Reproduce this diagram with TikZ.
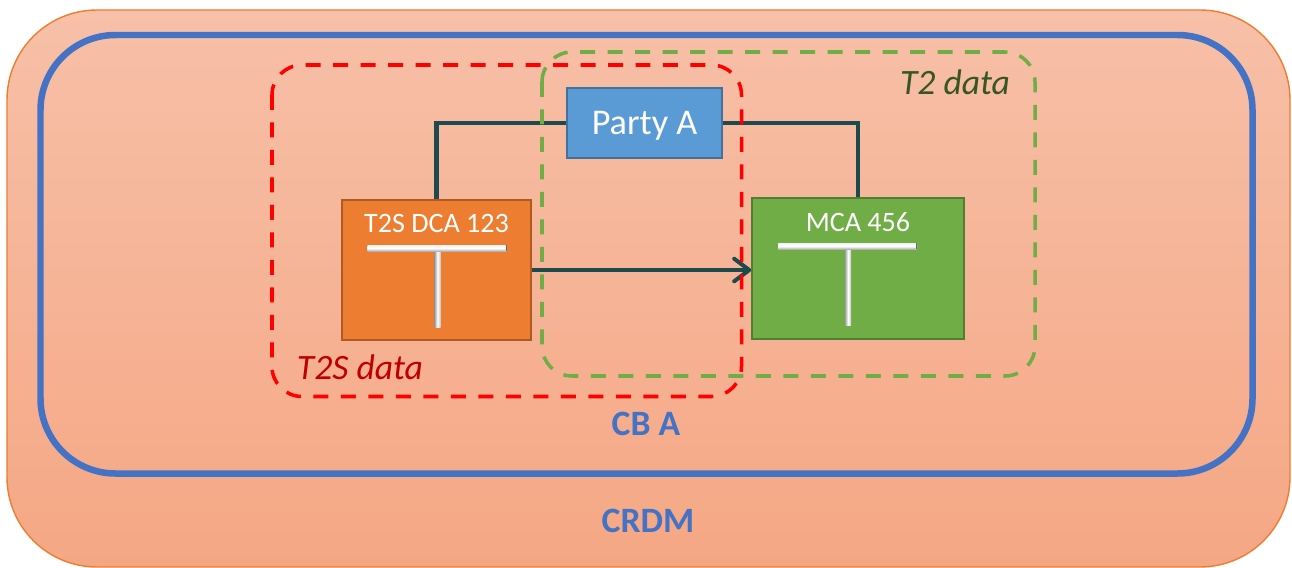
\documentclass[tikz,border=0pt]{standalone}
\usepackage{fontspec}
\setmainfont{Carlito}
\usetikzlibrary{calc}
\usetikzlibrary{arrows.meta}
\definecolor{CrdmTop}{HTML}{F7C0A8}
\definecolor{CrdmBottom}{HTML}{F5A784}
\definecolor{CrdmLine}{HTML}{ED7D31}
\definecolor{CbBlue}{HTML}{4472C4}
\definecolor{PartyFill}{HTML}{5B9BD5}
\definecolor{PartyLine}{HTML}{41719C}
\definecolor{DcaFill}{HTML}{ED7D31}
\definecolor{DcaLine}{HTML}{AE5A21}
\definecolor{McaFill}{HTML}{70AD47}
\definecolor{McaLine}{HTML}{507E32}
\definecolor{LinkTeal}{HTML}{1F4A4D}
\definecolor{TwoGreen}{HTML}{375623}
\definecolor{TwosRed}{HTML}{C00000}
\newcommand{\crdmround}{1.8cm}
\newcommand{\cbround}{1.5cm}
\newcommand{\dataround}{0.6cm}
\newcommand{\bigfont}{\fontsize{20.3}{24}\selectfont}
\newcommand{\acctfont}{\fontsize{16}{19}\selectfont}
% silver T of an account, #1 node, #2 x shift
\newcommand{\silvert}[2]{
  \shade[left color=gray!75, right color=gray!45, middle color=white]
    ($(#1.north)+(#2+0.5-3,49)$) rectangle ($(#1.north)+(#2+0.5+3,128)$);
  \shade[top color=gray!10, bottom color=gray!65, middle color=white]
    ($(#1.north)+(#2-69.5,46)$) rectangle ($(#1.north)+(#2+69.5,52)$);
  \fill[gray!80!black] ($(#1.north)+(#2+68.5,46)$) rectangle ($(#1.north)+(#2+69.5,52)$);
}

\begin{document}
\begin{tikzpicture}[x=0.02cm,y=-0.02cm,
    partybox/.style={draw=PartyLine,fill=PartyFill,line width=0.9pt,
      minimum width=3.1cm,minimum height=1.4cm,inner sep=0pt,
      text height=0.55cm,text depth=0.08cm,
      text=white,font=\fontsize{20.6}{24}\selectfont},
    acctbox/.style={line width=0.9pt,inner sep=0pt},
    accttext/.style={anchor=base,text=white,font=\acctfont},
    datazone/.style={line width=2pt,dash pattern=on 0.3cm off 0.25cm,
      rounded corners=\dataround},
    link/.style={LinkTeal,line width=2.3pt},
    zonetext/.style={anchor=base,font=\bigfont\itshape},
    cbtext/.style={anchor=base,text=CbBlue,font=\bigfont\bfseries}]
  \useasboundingbox (0,0) rectangle (1292,568);

  % crdm part
  \draw[CrdmLine,line width=0.8pt,top color=CrdmTop,bottom color=CrdmBottom,
    rounded corners=\crdmround] (7,10) rectangle (1290,567);
  \node[cbtext] (crdmlbl) at (648,532) {CRDM};

  % cb part
  \draw[CbBlue,line width=0.13cm,rounded corners=\cbround]
    (40.5,35) rectangle (1252.5,473.5);
  \node[cbtext] (cblbl) at (646,435) {CB A};

  % accounts
  \node[partybox] (party) at (644.5,123) {Party A};
  \node[acctbox,draw=DcaLine,fill=DcaFill,minimum width=3.78cm,
    minimum height=2.8cm] (dca) at (436.5,270) {};
  \node[accttext] (dcalbl) at ($(dca.north)+(0,33)$) {T2S DCA 123};
  \node[acctbox,draw=McaLine,fill=McaFill,minimum width=4.24cm,
    minimum height=2.82cm] (mca) at (858,268.5) {};
  \node[accttext] (mcalbl) at ($(mca.north)+(0,34)$) {MCA 456};
  \silvert{dca}{0.5}
  \silvert{mca}{-10.5}

  % links
  \draw[link] (party.west) -| (dca.north);
  \draw[link] (party.east) -| (mca.north);
  \draw[link,-{Straight Barb[length=0.3cm,width=0.45cm,round]}]
    (dca.east) -- (dca.east -| mca.west);

  % data zones
  \draw[datazone,McaFill] (542,52) rectangle (1035,376);
  \node[zonetext,text=TwoGreen] (t2lbl) at (955,94) {T2 data};
  \draw[datazone,red] (272,65) rectangle (741.5,396.5);
  \node[zonetext,text=TwosRed] (t2slbl) at (360,379) {T2S data};
\end{tikzpicture}
\end{document}
